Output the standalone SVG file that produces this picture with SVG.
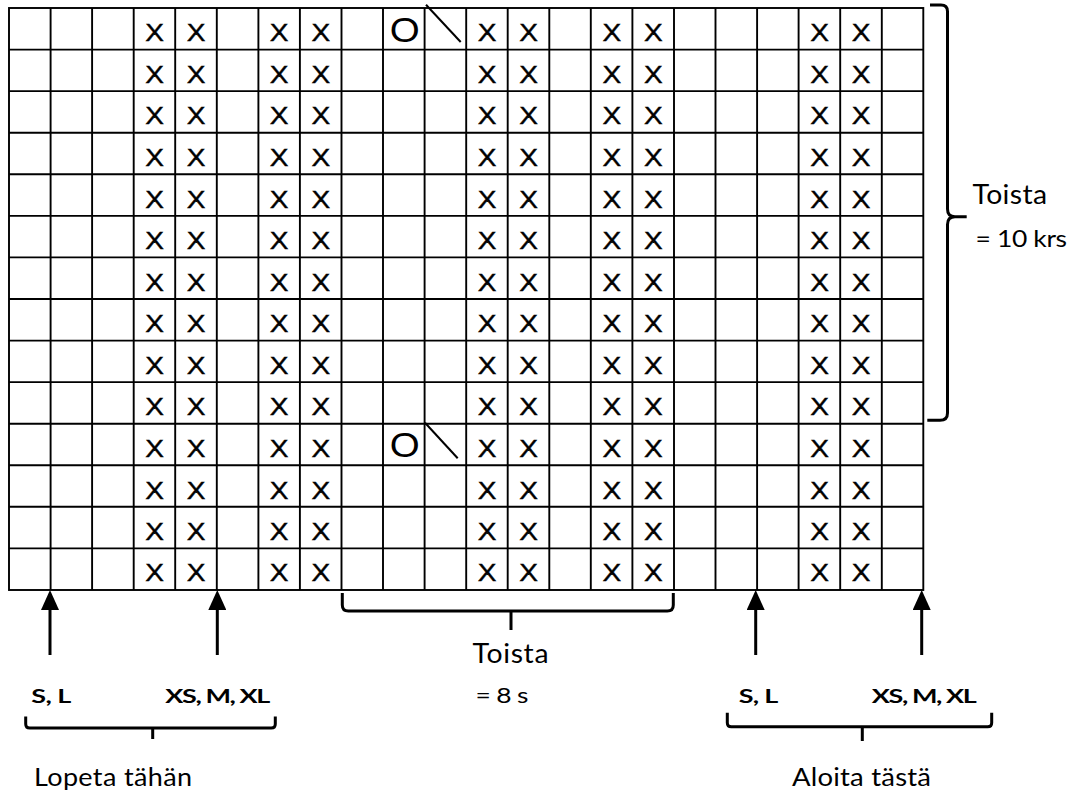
<svg xmlns="http://www.w3.org/2000/svg" width="1072" height="796" viewBox="0 0 1072 796">
<defs>
<style>
.grid{fill:none;stroke:#000;stroke-width:1.9}
.x{font-family:"Liberation Sans",Arial,sans-serif;font-size:23px;fill:#000;stroke:#000;stroke-width:0.4}
.o{font-family:"Liberation Sans",Arial,sans-serif;font-size:35px;fill:#000}
.slash{stroke:#000;stroke-width:2;fill:none}
.br{fill:none;stroke:#000;stroke-width:3;stroke-linejoin:round}
.arr{stroke:#000;stroke-width:3;fill:none}
.lbl{font-family:Lato,"Liberation Sans",sans-serif;fill:#000}
.b{font-weight:700;font-size:18px}
.big{font-size:27px}
.mid{font-size:25px}
.eq{font-size:23px}
.eq2{font-size:22px}
</style>
<marker id="ah" viewBox="0 0 20 18" refX="5" refY="9" markerWidth="20" markerHeight="18" markerUnits="userSpaceOnUse" orient="auto"><path d="M0,0 L20,9 L0,18 z" fill="#000"/></marker>
</defs>
<rect width="1072" height="796" fill="#fff"/>
<g id="grid">
<rect class="grid" x="9" y="8" width="914.3" height="582"/>
<path class="grid" d="M50.6,8V590M92.1,8V590M133.7,8V590M175.2,8V590M216.8,8V590M258.4,8V590M299.9,8V590M341.5,8V590M383,8V590M424.6,8V590M466.2,8V590M507.7,8V590M549.3,8V590M590.8,8V590M632.4,8V590M674,8V590M715.5,8V590M757.1,8V590M798.6,8V590M840.2,8V590M881.8,8V590M9,49.6H923.3M9,91.1H923.3M9,132.7H923.3M9,174.3H923.3M9,215.9H923.3M9,257.4H923.3M9,299H923.3M9,340.6H923.3M9,382.1H923.3M9,423.7H923.3M9,465.3H923.3M9,506.8H923.3M9,548.4H923.3"/>
</g>
<g id="symbols">
<g transform="scale(1.1 1)">
<text class="o" x="354.4" y="42">O</text>
<text class="o" x="354.4" y="457.5">O</text>
</g>
<line class="slash" x1="426" y1="4.7" x2="460.7" y2="42"/>
<line class="slash" x1="425" y1="422.7" x2="457.7" y2="458.3"/>
<g id="xs" transform="scale(1.22 1)">
<g id="row1"><text class="x" x="119" y="41.3">X</text><text class="x" x="153.1" y="41.3">X</text><text class="x" x="221.2" y="41.3">X</text><text class="x" x="255.3" y="41.3">X</text><text class="x" x="391.6" y="41.3">X</text><text class="x" x="425.7" y="41.3">X</text><text class="x" x="493.8" y="41.3">X</text><text class="x" x="527.8" y="41.3">X</text><text class="x" x="664.1" y="41.3">X</text><text class="x" x="698.1" y="41.3">X</text></g>
<g id="row2"><text class="x" x="119" y="82.9">X</text><text class="x" x="153.1" y="82.9">X</text><text class="x" x="221.2" y="82.9">X</text><text class="x" x="255.3" y="82.9">X</text><text class="x" x="391.6" y="82.9">X</text><text class="x" x="425.7" y="82.9">X</text><text class="x" x="493.8" y="82.9">X</text><text class="x" x="527.8" y="82.9">X</text><text class="x" x="664.1" y="82.9">X</text><text class="x" x="698.1" y="82.9">X</text></g>
<g id="row3"><text class="x" x="119" y="124.4">X</text><text class="x" x="153.1" y="124.4">X</text><text class="x" x="221.2" y="124.4">X</text><text class="x" x="255.3" y="124.4">X</text><text class="x" x="391.6" y="124.4">X</text><text class="x" x="425.7" y="124.4">X</text><text class="x" x="493.8" y="124.4">X</text><text class="x" x="527.8" y="124.4">X</text><text class="x" x="664.1" y="124.4">X</text><text class="x" x="698.1" y="124.4">X</text></g>
<g id="row4"><text class="x" x="119" y="166">X</text><text class="x" x="153.1" y="166">X</text><text class="x" x="221.2" y="166">X</text><text class="x" x="255.3" y="166">X</text><text class="x" x="391.6" y="166">X</text><text class="x" x="425.7" y="166">X</text><text class="x" x="493.8" y="166">X</text><text class="x" x="527.8" y="166">X</text><text class="x" x="664.1" y="166">X</text><text class="x" x="698.1" y="166">X</text></g>
<g id="row5"><text class="x" x="119" y="207.6">X</text><text class="x" x="153.1" y="207.6">X</text><text class="x" x="221.2" y="207.6">X</text><text class="x" x="255.3" y="207.6">X</text><text class="x" x="391.6" y="207.6">X</text><text class="x" x="425.7" y="207.6">X</text><text class="x" x="493.8" y="207.6">X</text><text class="x" x="527.8" y="207.6">X</text><text class="x" x="664.1" y="207.6">X</text><text class="x" x="698.1" y="207.6">X</text></g>
<g id="row6"><text class="x" x="119" y="249.2">X</text><text class="x" x="153.1" y="249.2">X</text><text class="x" x="221.2" y="249.2">X</text><text class="x" x="255.3" y="249.2">X</text><text class="x" x="391.6" y="249.2">X</text><text class="x" x="425.7" y="249.2">X</text><text class="x" x="493.8" y="249.2">X</text><text class="x" x="527.8" y="249.2">X</text><text class="x" x="664.1" y="249.2">X</text><text class="x" x="698.1" y="249.2">X</text></g>
<g id="row7"><text class="x" x="119" y="290.7">X</text><text class="x" x="153.1" y="290.7">X</text><text class="x" x="221.2" y="290.7">X</text><text class="x" x="255.3" y="290.7">X</text><text class="x" x="391.6" y="290.7">X</text><text class="x" x="425.7" y="290.7">X</text><text class="x" x="493.8" y="290.7">X</text><text class="x" x="527.8" y="290.7">X</text><text class="x" x="664.1" y="290.7">X</text><text class="x" x="698.1" y="290.7">X</text></g>
<g id="row8"><text class="x" x="119" y="332.3">X</text><text class="x" x="153.1" y="332.3">X</text><text class="x" x="221.2" y="332.3">X</text><text class="x" x="255.3" y="332.3">X</text><text class="x" x="391.6" y="332.3">X</text><text class="x" x="425.7" y="332.3">X</text><text class="x" x="493.8" y="332.3">X</text><text class="x" x="527.8" y="332.3">X</text><text class="x" x="664.1" y="332.3">X</text><text class="x" x="698.1" y="332.3">X</text></g>
<g id="row9"><text class="x" x="119" y="373.9">X</text><text class="x" x="153.1" y="373.9">X</text><text class="x" x="221.2" y="373.9">X</text><text class="x" x="255.3" y="373.9">X</text><text class="x" x="391.6" y="373.9">X</text><text class="x" x="425.7" y="373.9">X</text><text class="x" x="493.8" y="373.9">X</text><text class="x" x="527.8" y="373.9">X</text><text class="x" x="664.1" y="373.9">X</text><text class="x" x="698.1" y="373.9">X</text></g>
<g id="row10"><text class="x" x="119" y="415.4">X</text><text class="x" x="153.1" y="415.4">X</text><text class="x" x="221.2" y="415.4">X</text><text class="x" x="255.3" y="415.4">X</text><text class="x" x="391.6" y="415.4">X</text><text class="x" x="425.7" y="415.4">X</text><text class="x" x="493.8" y="415.4">X</text><text class="x" x="527.8" y="415.4">X</text><text class="x" x="664.1" y="415.4">X</text><text class="x" x="698.1" y="415.4">X</text></g>
<g id="row11"><text class="x" x="119" y="457">X</text><text class="x" x="153.1" y="457">X</text><text class="x" x="221.2" y="457">X</text><text class="x" x="255.3" y="457">X</text><text class="x" x="391.6" y="457">X</text><text class="x" x="425.7" y="457">X</text><text class="x" x="493.8" y="457">X</text><text class="x" x="527.8" y="457">X</text><text class="x" x="664.1" y="457">X</text><text class="x" x="698.1" y="457">X</text></g>
<g id="row12"><text class="x" x="119" y="498.6">X</text><text class="x" x="153.1" y="498.6">X</text><text class="x" x="221.2" y="498.6">X</text><text class="x" x="255.3" y="498.6">X</text><text class="x" x="391.6" y="498.6">X</text><text class="x" x="425.7" y="498.6">X</text><text class="x" x="493.8" y="498.6">X</text><text class="x" x="527.8" y="498.6">X</text><text class="x" x="664.1" y="498.6">X</text><text class="x" x="698.1" y="498.6">X</text></g>
<g id="row13"><text class="x" x="119" y="540.1">X</text><text class="x" x="153.1" y="540.1">X</text><text class="x" x="221.2" y="540.1">X</text><text class="x" x="255.3" y="540.1">X</text><text class="x" x="391.6" y="540.1">X</text><text class="x" x="425.7" y="540.1">X</text><text class="x" x="493.8" y="540.1">X</text><text class="x" x="527.8" y="540.1">X</text><text class="x" x="664.1" y="540.1">X</text><text class="x" x="698.1" y="540.1">X</text></g>
<g id="row14"><text class="x" x="119" y="581.3">X</text><text class="x" x="153.1" y="581.3">X</text><text class="x" x="221.2" y="581.3">X</text><text class="x" x="255.3" y="581.3">X</text><text class="x" x="391.6" y="581.3">X</text><text class="x" x="425.7" y="581.3">X</text><text class="x" x="493.8" y="581.3">X</text><text class="x" x="527.8" y="581.3">X</text><text class="x" x="664.1" y="581.3">X</text><text class="x" x="698.1" y="581.3">X</text></g>
</g>
</g>
<g id="connectors">
<line class="arr" x1="50" y1="655" x2="50" y2="605" marker-end="url(#ah)"/>
<line class="arr" x1="217.3" y1="655" x2="217.3" y2="605" marker-end="url(#ah)"/>
<line class="arr" x1="755.7" y1="655" x2="755.7" y2="605" marker-end="url(#ah)"/>
<line class="arr" x1="921.7" y1="655" x2="921.7" y2="605" marker-end="url(#ah)"/>
<path class="br" d="M930,5H941Q947.5,5 947.5,11.5V209Q947.5,216.7 955,216.7H966.7M955,216.7Q947.5,216.7 947.5,224.4V413Q947.5,420.3 940,420.3H927.3"/>
<path class="br" d="M342.3,593V605Q342.3,611 348.3,611H667.3Q673.3,611 673.3,605V593M511,611V630"/>
<path class="br" d="M25.7,716.5V724Q25.7,728 29.7,728H271.3Q275.3,728 275.3,724V716.5M152.7,728V739"/>
<path class="br" d="M727.3,712.7V722.7Q727.3,726.7 731.3,726.7H987.7Q991.7,726.7 991.7,722.7V712.7M862.3,726.7V741"/>
</g>
<g id="labels">
<text class="lbl big" transform="scale(1.05 1)" x="926.2" y="204.3" textLength="70.95">Toista</text>
<text class="lbl eq" transform="scale(1.15 1)" x="848.3" y="247.3" textLength="79.6">= 10 krs</text>
<text class="lbl big" transform="scale(1.05 1)" x="450" y="663" textLength="72.4">Toista</text>
<text class="lbl eq2" transform="scale(1.2 1)" x="396.2" y="703.3" textLength="44.2">= 8 s</text>
<text class="lbl b" transform="scale(1.5 1)" x="20.87" y="703" textLength="26.67">S, L</text>
<text class="lbl b" transform="scale(1.5 1)" x="110.2" y="703" textLength="70">XS, M, XL</text>
<text class="lbl b" transform="scale(1.5 1)" x="492.53" y="702.7" textLength="26.33">S, L</text>
<text class="lbl b" transform="scale(1.5 1)" x="581.2" y="702.7" textLength="70">XS, M, XL</text>
<text class="lbl mid" transform="scale(1.08 1)" x="31.48" y="785.7" textLength="146.3">Lopeta tähän</text>
<text class="lbl mid" transform="scale(1.1 1)" x="720" y="785.7" textLength="126.36">Aloita tästä</text>
</g>
</svg>
